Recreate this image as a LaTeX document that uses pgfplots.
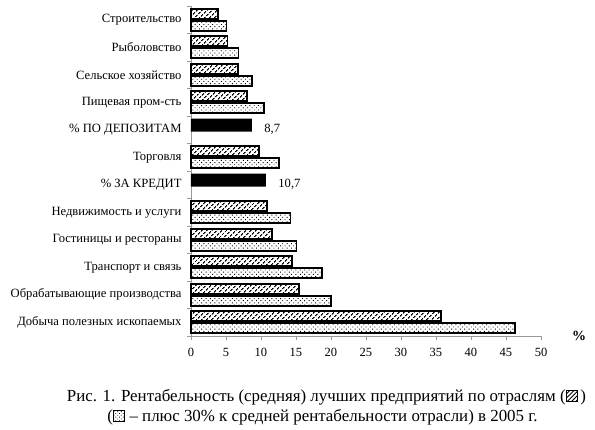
\documentclass[border=0pt]{standalone}
\usepackage{fontspec}
\setmainfont{Liberation Serif}
\usepackage{pgfplots}
\pgfplotsset{compat=1.18}
\usetikzlibrary{patterns.meta}
\newcommand{\hatchicon}{\tikz[baseline=0.5bp]\draw[line width=1.3bp, pattern={Lines[angle=45,distance=3bp,line width=0.9bp]}, pattern color=black] (0,0) rectangle (11bp,11bp);}
\newcommand{\doticon}{\tikz[baseline=0.5bp]\draw[line width=1.3bp, pattern={Dots[angle=45,distance=2.6bp,radius=0.55bp]}, pattern color=black] (0,0) rectangle (11bp,11bp);}
\begin{document}
\begin{tikzpicture}
\path[use as bounding box] (-191bp,-94bp) rectangle (404bp,336bp);
\begin{axis}[
  at={(0,0)}, anchor=south west,
  scale only axis, width=350bp, height=330bp,
  xmin=0, xmax=50, ymin=-0.5, ymax=11.5,
  axis lines*=left,
  axis line style={draw=gray!80, line width=0.8bp},
  tick align=outside,
  tick style={draw=gray!80, line width=0.8bp},
  major tick length=4bp,
  xtick={0,5,...,50},
  ytick={-0.5,0.5,1.5,2.5,3.5,4.5,5.5,6.5,7.5,8.5,9.5,10.5,11.5},
  yticklabels={Добыча полезных ископаемых,Обрабатывающие производства,Транспорт и связь,Гостиницы и рестораны,Недвижимость и услуги,\% ЗА КРЕДИТ,Торговля,\% ПО ДЕПОЗИТАМ,Пищевая пром-сть,Сельское хозяйство,Рыболовство,Строительство,{}},
  yticklabel style={yshift=13.75bp, xshift=-2bp, font=\fontsize{12.6bp}{15bp}\selectfont},
  xticklabel style={yshift=-5bp, font=\fontsize{12.5bp}{14bp}\selectfont},
  /pgf/number format/assume math mode=true,
  clip=false,
]
\addplot[xbar, bar width=10bp, bar shift=6bp, draw=black, line width=1.6bp,
  pattern={Lines[angle=45,distance=3.6bp,line width=1.2bp]}, pattern color=black]
  coordinates {(35.7,0) (15.4,1) (14.4,2) (11.6,3) (10.9,4) (9.7,6) (8.0,8) (6.7,9) (5.2,10) (3.9,11)};
\addplot[xbar, bar width=10bp, bar shift=-6bp, draw=black, line width=1.6bp,
  pattern={Dots[angle=45,distance=3.1bp,radius=0.65bp]}, pattern color=black]
  coordinates {(46.3,0) (20.0,1) (18.7,2) (15.1,3) (14.2,4) (12.6,6) (10.4,8) (8.7,9) (6.8,10) (5.1,11)};
\addplot[xbar, bar width=13bp, bar shift=4.5bp, fill=black, draw=none,
  point meta=x, nodes near coords={\pgfmathprintnumber[fixed,precision=1,use comma]{\pgfplotspointmeta}},
  every node near coord/.append style={anchor=west, xshift=9bp, font=\fontsize{12.6bp}{15bp}\selectfont}]
  coordinates {(10.7,5) (8.7,7)};
\end{axis}
\node[font=\fontsize{14bp}{16bp}\selectfont\bfseries] at (388bp,0bp) {\%};
\node[font=\fontsize{16.9bp}{20bp}\selectfont] at (135.5bp,-61bp) {Рис. 1. Рентабельность (средняя) лучших предприятий по отраслям (\hatchicon\,)};
\node[font=\fontsize{16.9bp}{20bp}\selectfont] at (131.5bp,-81bp) {(\doticon{} – плюс 30\% к средней рентабельности отрасли) в 2005 г.};
\end{tikzpicture}
\end{document}
